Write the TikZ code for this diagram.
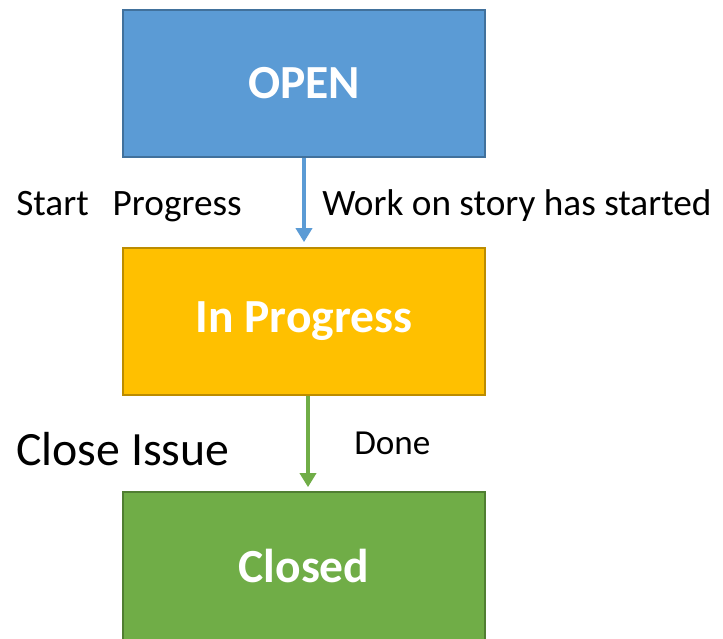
\documentclass[tikz,border=0pt]{standalone}
\usepackage{fontspec}
\setmainfont{Carlito}
\usetikzlibrary{arrows.meta}

\definecolor{openfill}{HTML}{5B9BD5}
\definecolor{opendraw}{HTML}{41719C}
\definecolor{progfill}{HTML}{FFC000}
\definecolor{progdraw}{HTML}{BC8C00}
\definecolor{closedfill}{HTML}{70AD47}
\definecolor{closeddraw}{HTML}{507E32}

\tikzset{
    statebox/.style={rectangle, line width=1.2pt, minimum width=90.5mm, minimum height=36.75mm,
        inner sep=0pt, text=white, font=\fontsize{33.8}{40}\selectfont\bfseries},
    translabel/.style={anchor=base west, inner sep=0pt, font=\fontsize{26.5}{31}\selectfont},
    bigtranslabel/.style={anchor=base west, inner sep=0pt, font=\fontsize{34}{40}\selectfont},
    flow/.style={line width=1mm, -{Triangle[width=4mm,length=3.5mm]}}
}

\begin{document}
\begin{tikzpicture}[x=0.25mm,y=-0.25mm]
            \useasboundingbox (0,0) rectangle (723,638);

            \node[statebox, fill=openfill, draw=opendraw] (open) at (304,83.5) {OPEN};
            \node[statebox, fill=progfill, draw=progdraw] (inprogress) at (304,321.5) {In Progress};
            \node[statebox, fill=closedfill, draw=closeddraw, minimum height=37mm] (closed) at (304,566) {Closed};

            \draw[flow, draw=openfill, shorten >=1.25mm] (open.south) -- (inprogress.north);
            \draw[flow, draw=closedfill, shorten >=1mm] ([xshift=1mm]inprogress.south) -- ([xshift=1mm]closed.north);

            \node[translabel] (startlbl) at (16,215) {Start\hspace{6mm}Progress};
            \node[translabel] (worklbl) at (322,215) {Work on story has started};
            \node[bigtranslabel] (closelbl) at (16,465) {Close Issue};
            \node[translabel, font=\fontsize{25}{30}\selectfont] (donelbl) at (354,454) {Done};
        \end{tikzpicture}
\end{document}
